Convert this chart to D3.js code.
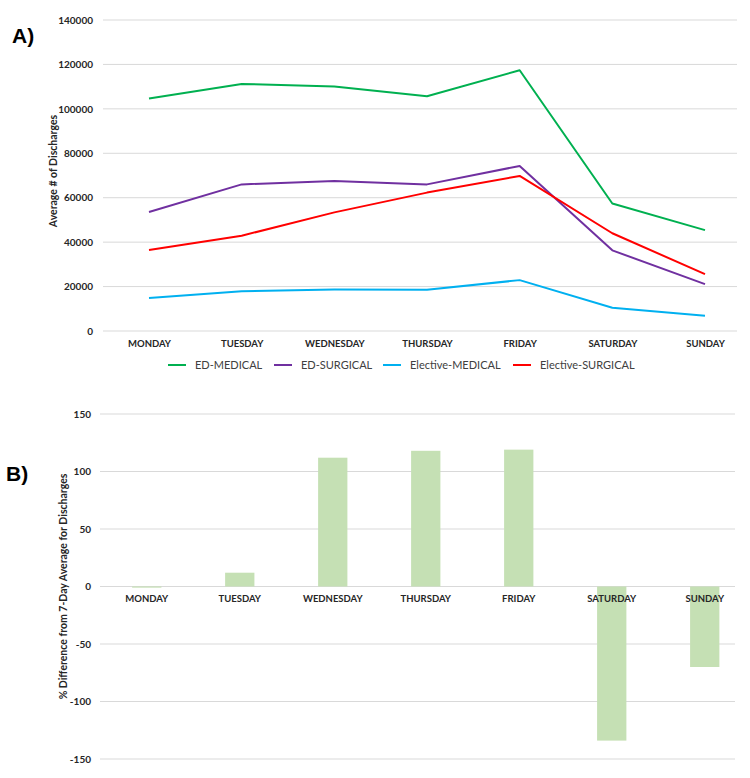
<!DOCTYPE html>
<html>
<head>
<meta charset="utf-8">
<script src="https://cdn.jsdelivr.net/npm/d3@7"></script>
<style>
  body { margin: 0; background: #fff; }
  svg { display: block; font-family: Lato, "Open Sans", sans-serif; }
</style>
</head>
<body>
<svg id="chart" width="750" height="778"></svg>
<script>
const days = ["MONDAY","TUESDAY","WEDNESDAY","THURSDAY","FRIDAY","SATURDAY","SUNDAY"];
const edMedical = [104700, 111200, 110100, 105700, 117400, 57400, 45400];
const edSurgical = [53600, 66000, 67500, 66000, 74300, 36300, 21100];
const electiveMedical = [14900, 17900, 18700, 18600, 22900, 10500, 6900];
const electiveSurgical = [36500, 42900, 53400, 62300, 69800, 44000, 25600];
const seriesNames = ["ED-MEDICAL","ED-SURGICAL","Elective-MEDICAL","Elective-SURGICAL"];
const seriesColors = ["#00B050","#7030A0","#00B0F0","#FF0000"];
const topTicks = [0,20000,40000,60000,80000,100000,120000,140000];
const pctDiff = [-1, 12, 112, 118, 119, -134, -70];
const bottomTicks = [-150,-100,-50,0,50,100,150];

const svg = d3.select("#chart");
const gridColor = "#D9D9D9";
const textColor = "#262626";

// ---------- Panel A ----------
const A = {left: 103, right: 737, top: 20, bottom: 331};
const xA = d3.scalePoint().domain(days).range([149, 705]);
const yA = d3.scaleLinear().domain([0, 140000]).range([A.bottom, A.top]);

const gA = svg.append("g");
gA.selectAll("line.grid").data(topTicks).enter().append("line")
  .attr("x1", A.left).attr("x2", A.right)
  .attr("y1", d => yA(d)).attr("y2", d => yA(d))
  .attr("stroke", gridColor).attr("stroke-width", 1);

const yAxisA = d3.axisLeft(yA).tickValues(topTicks).tickSize(0).tickPadding(0).tickFormat(d => String(d));
gA.append("g").attr("transform", "translate(93,0)").call(yAxisA)
  .call(g => g.select(".domain").remove())
  .selectAll("text").attr("font-size", 10).attr("font-weight", "bold")
  .attr("fill", textColor).attr("font-family", "Lato, sans-serif");

const xAxisA = d3.axisBottom(xA).tickSize(0).tickPadding(0);
gA.append("g").attr("transform", `translate(0,${A.bottom + 9})`).call(xAxisA)
  .call(g => g.select(".domain").remove())
  .selectAll("text").attr("font-size", 9.5).attr("font-weight", "bold")
  .attr("fill", textColor).attr("font-family", "Lato, sans-serif");

const allSeries = [edMedical, edSurgical, electiveMedical, electiveSurgical];
const line = d3.line().x((d, i) => xA(days[i])).y(d => yA(d));
gA.selectAll("path.series").data(allSeries).enter().append("path")
  .attr("d", d => line(d))
  .attr("fill", "none")
  .attr("stroke", (d, i) => seriesColors[i])
  .attr("stroke-width", 2)
  .attr("stroke-linejoin", "round");

// legend
const legendX = [168, 274, 383, 513];
const lg = gA.append("g");
seriesNames.forEach((name, i) => {
  lg.append("line").attr("x1", legendX[i]).attr("x2", legendX[i] + 18)
    .attr("y1", 365).attr("y2", 365)
    .attr("stroke", seriesColors[i]).attr("stroke-width", 2);
  lg.append("text").attr("x", legendX[i] + 27).attr("y", 369)
    .attr("font-size", 11).attr("fill", "#404040").text(name);
});

gA.append("text")
  .attr("transform", "translate(57,171) rotate(-90)")
  .attr("text-anchor", "middle").attr("font-size", 10.5).attr("font-weight", "bold")
  .attr("fill", textColor).text("Average # of Discharges");

svg.append("text").attr("x", 12).attr("y", 43)
  .attr("font-size", 21).attr("font-weight", "bold").attr("fill", "#000")
  .attr("font-family", "Liberation Sans, Arial, sans-serif").text("A)");

// ---------- Panel B ----------
const B = {left: 100, right: 735, top: 414, bottom: 759};
const xB = d3.scaleBand().domain(days).range([100.5, 751]).paddingInner(0.685).paddingOuter(0.34);
const yB = d3.scaleLinear().domain([-150, 150]).range([B.bottom, B.top]);

const gB = svg.append("g");
gB.selectAll("line.grid").data(bottomTicks).enter().append("line")
  .attr("x1", B.left).attr("x2", B.right)
  .attr("y1", d => yB(d)).attr("y2", d => yB(d))
  .attr("stroke", gridColor).attr("stroke-width", 1);

gB.selectAll("rect.bar").data(pctDiff).enter().append("rect")
  .attr("x", (d, i) => xB(days[i]))
  .attr("width", xB.bandwidth())
  .attr("y", d => yB(Math.max(0, d)))
  .attr("height", d => Math.abs(yB(d) - yB(0)))
  .attr("fill", "#C5E0B4");

const yAxisB = d3.axisLeft(yB).tickValues(bottomTicks).tickSize(0).tickPadding(0).tickFormat(d => String(d));
gB.append("g").attr("transform", "translate(91,0)").call(yAxisB)
  .call(g => g.select(".domain").remove())
  .selectAll("text").attr("font-size", 10).attr("font-weight", "bold")
  .attr("fill", textColor).attr("font-family", "Lato, sans-serif");

const xAxisB = d3.axisBottom(xB).tickSize(0).tickPadding(0);
gB.append("g").attr("transform", `translate(0,${yB(0) + 9})`).call(xAxisB)
  .call(g => g.select(".domain").remove())
  .selectAll("text").attr("font-size", 9.5).attr("font-weight", "bold")
  .attr("fill", textColor).attr("font-family", "Lato, sans-serif");

gB.append("text")
  .attr("transform", `translate(67,${(B.top + B.bottom) / 2}) rotate(-90)`)
  .attr("text-anchor", "middle").attr("font-size", 10.5).attr("font-weight", "bold")
  .attr("fill", textColor).text("% Difference from 7-Day Average for Discharges");

svg.append("text").attr("x", 6).attr("y", 481)
  .attr("font-size", 21).attr("font-weight", "bold").attr("fill", "#000")
  .attr("font-family", "Liberation Sans, Arial, sans-serif").text("B)");
</script>
</body>
</html>
